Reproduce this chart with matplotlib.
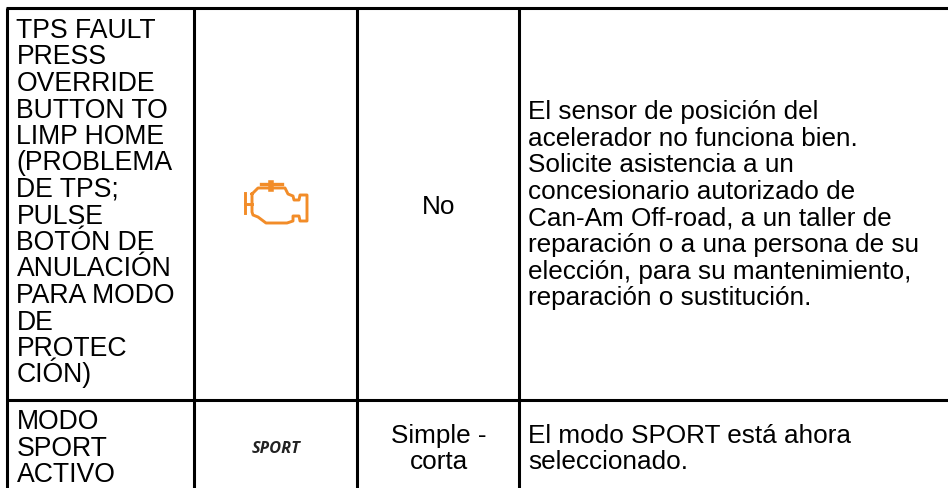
import matplotlib
matplotlib.use("Agg")
import matplotlib.pyplot as plt

# table contents
col_lines = [7.5, 194.5, 357.5, 519.5]
row_lines = [8.5, 400.5]

fault_lines = ["TPS FAULT", "PRESS", "OVERRIDE", "BUTTON TO", "LIMP HOME", "(PROBLEMA", "DE TPS;",
               "PULSE", "BOTÓN DE", "ANULACIÓN", "PARA MODO", "DE", "PROTEC", "CIÓN)"]
desc_lines = ["El sensor de posición del", "acelerador no funciona bien.", "Solicite asistencia a un",
              "concesionario autorizado de", "Can-Am Off-road, a un taller de", "reparación o a una persona de su",
              "elección, para su mantenimiento,", "reparación o sustitución."]
sport_lines = ["MODO", "SPORT", "ACTIVO"]
beep_lines = ["Simple -", "corta"]
sport_desc = ["El modo SPORT está ahora", "seleccionado."]

# engine icon outline, in pixels
engine = [(252, 195), (258, 189), (285, 189), (288, 195), (293, 197), (294, 201), (299, 201), (300, 196),
          (307, 196), (307, 222), (300, 222), (299, 217), (293, 217), (293, 222), (287, 224), (266, 224),
          (258, 218), (253, 216), (252, 213), (252, 195)]
engine_cap = [(261, 184.5), (282, 184.5)]
engine_stem = [(271, 184), (271, 190)]
engine_left = [(245, 194), (245, 214)]
engine_neck = [(245, 205), (252, 205)]

fig = plt.figure(figsize=(9.48, 4.89), dpi=100)
ax = fig.add_axes([0, 0, 1, 1])
ax.set_xlim(0, 948)
ax.set_ylim(489, 0)
ax.axis("off")

for x in col_lines:
    ax.plot([x, x], [row_lines[0], 489], color="black", lw=2.2, solid_capstyle="butt")
for y in row_lines:
    ax.plot([col_lines[0] - 1.5, 948], [y, y], color="black", lw=2.2, solid_capstyle="butt")

font = {"family": "Liberation Sans", "fontsize": 18.8, "color": "black"}


def write_block(lines, x, y0, step, ha="left", size=18.8):
    for i, line in enumerate(lines):
        ax.text(x, y0 + i * step, line, ha=ha, va="baseline", **{**font, "fontsize": size})


write_block(fault_lines, 16.5, 38, 26.5, size=19.2)
write_block(desc_lines, 528.5, 119, 26.6)
write_block(sport_lines, 16.5, 429, 26.5, size=19.2)
write_block(beep_lines, 439, 443, 26, ha="center")
write_block(sport_desc, 528.5, 443, 26)
ax.text(439, 214, "No", ha="center", va="baseline", **font)
ax.text(276, 453, "SPORT", ha="center", va="baseline", family="Open Sans", fontsize=11.8, fontweight="bold",
        fontstyle="italic", color="#222222")

orange = "#f28c28"
ax.plot(*zip(*engine), color=orange, lw=2.1, solid_joinstyle="round")
for seg, w in [(engine_cap, 2.4), (engine_stem, 4), (engine_left, 2.1), (engine_neck, 2.1)]:
    ax.plot(*zip(*seg), color=orange, lw=w)

fig.savefig("out.png", dpi=100, facecolor="white")
